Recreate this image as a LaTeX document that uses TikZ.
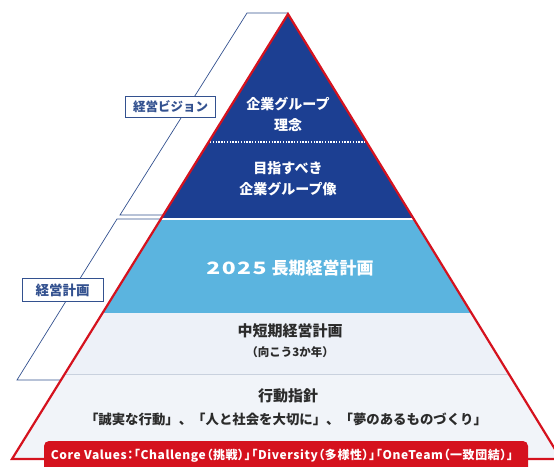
\documentclass[tikz,border=0pt]{standalone}
\usepackage{fontspec}
\setmainfont{Noto Sans CJK JP}
\definecolor{dkblue}{HTML}{1C3F92}
\definecolor{ltblue}{HTML}{5BB4DF}
\definecolor{paleA}{HTML}{EDF1F8}
\definecolor{paleB}{HTML}{F1F4F9}
\definecolor{sepgray}{HTML}{C9D1DE}
\definecolor{pyrred}{HTML}{D5121E}
\definecolor{frameblue}{HTML}{33518F}
\definecolor{txtdark}{HTML}{2B2B2B}
\begin{document}
\begin{tikzpicture}[x=1pt,y=-1pt,
  wtext/.style={text=white,font=\bfseries\fontsize{14}{21}\selectfont,align=center,inner sep=0pt},
  dtext/.style={text=txtdark,font=\bfseries\fontsize{15}{18}\selectfont,align=center,inner sep=0pt},
  sidebox/.style={draw=frameblue,fill=white,line width=0.9pt,text=frameblue,
    font=\bfseries\fontsize{12.5}{14}\selectfont,inner sep=0pt,minimum height=21pt},
  frameline/.style={draw=frameblue,line width=0.7pt},
  redline/.style={draw=pyrred,line width=2.2pt}]
\clip (0,0) rectangle (554,466);
\coordinate (A) at (288,14);
\coordinate (BL) at (12,459);
\coordinate (BR) at (561,459);
% bands
\begin{scope}
\clip (A) -- (BL) -- (BR) -- cycle;
\fill[dkblue] (0,0) rectangle (570,218);
\fill[white] (0,218) rectangle (570,220);
\fill[ltblue] (0,220) rectangle (570,313);
\fill[paleA] (0,313) rectangle (570,374);
\fill[sepgray] (0,374) rectangle (570,375.2);
\fill[paleB] (0,375.2) rectangle (570,470);
\draw[white,line width=1.2pt,dash pattern=on 1.3pt off 1.5pt] (0,142) -- (570,142);
\end{scope}
% left frames
\coordinate (u1) at (163.4,215);
\coordinate (u2) at (120,215);
\coordinate (u3) at (247,13);
\coordinate (u4) at (288,13);
\draw[frameline] (u1) -- (u2) -- (u3) -- (u4);
\coordinate (l1) at (161,219);
\coordinate (l2) at (117,219);
\coordinate (l3) at (17,380);
\coordinate (l4) at (61,380);
\draw[frameline] (l1) -- (l2) -- (l3) -- (l4);
\node[sidebox,minimum width=90pt] (vision) at (170.5,107) {経営ビジョン};
\node[sidebox,minimum width=81pt,minimum height=23pt,font=\bfseries\fontsize{13.5}{15}\selectfont] (plan) at (62.5,290) {経営計画};
% red outline
\draw[redline,line join=miter] (BL) -- (A) -- (BR) -- cycle;
% texts
\node[wtext] (rinen) at (288,114) {企業グループ\\理念};
\node[wtext] (mezasu) at (288,178.5) {目指すべき\\企業グループ像};
\node[text=white,font=\bfseries\fontsize{17}{20}\selectfont,inner sep=0pt] (lt) at (290,268)
  {\scalebox{1.35}[1]{\addfontfeature{LetterSpace=6}2025}\hspace{5pt}長期経営計画};
\node[dtext] (mid) at (290,331) {中短期経営計画};
\node[text=txtdark,font=\bfseries\fontsize{11.5}{13}\selectfont,inner sep=0pt] (mid2) at (290,352) {（向こう3か年）};
\node[dtext] (kodo) at (288,396) {行動指針};
\node[text=txtdark,font=\bfseries\fontsize{13.4}{16}\selectfont,inner sep=0pt] (kodo2) at (286,419)
  {「誠実な行動」、「人と社会を大切に」、「夢のあるものづくり」};
% core values
\fill[pyrred] (44,470) [rounded corners=5pt]-- (44,441) -- (528,441) [sharp corners]-- (528,470) -- cycle;
\node[text=white,font=\bfseries\fontsize{12}{13}\selectfont\addfontfeature{RawFeature=+palt,LetterSpace=5},inner sep=0pt] (core) at (282,456)
  {Core Values：「Challenge（挑戦）」「Diversity（多様性）」「OneTeam（一致団結）」};
\end{tikzpicture}
\end{document}
